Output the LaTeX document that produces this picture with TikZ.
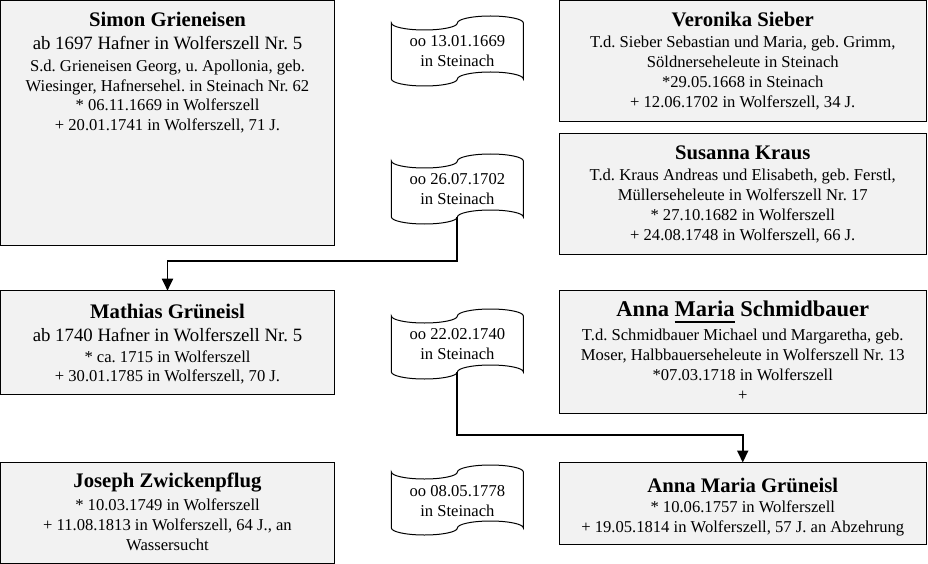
\documentclass[tikz,border=0pt]{standalone}
\usepackage{fontspec}
\setmainfont{Liberation Serif}
\usetikzlibrary{arrows.meta,fit}
\definecolor{boxgray}{HTML}{F2F2F2}
\newcommand\tb[1]{\begin{tabular}[t]{@{}c@{}}#1\end{tabular}}
\newcommand\nm[1]{{\fontsize{20.7}{20}\selectfont\bfseries #1}}
\newcommand\bignm[1]{{\fontsize{22.5}{20}\selectfont\bfseries #1}}
\newcommand\hf[1]{{\fontsize{18.8}{20}\selectfont #1}}
\newcommand\myul[1]{\setbox0\hbox{#1}\rlap{\smash{\rule[-6.4pt]{\wd0}{1.7pt}}}\box0\relax}
\newcommand\drawtape[1]{%
  \draw[tape] (#1.north west)
    arc[start angle=180, end angle=360, x radius=33pt, y radius=7pt]
    arc[start angle=180, end angle=0, x radius=33pt, y radius=7pt]
    -- (#1.south east)
    arc[start angle=0, end angle=180, x radius=33pt, y radius=7pt]
    arc[start angle=0, end angle=-180, x radius=33pt, y radius=7pt]
    -- cycle;}
\begin{document}
\begin{tikzpicture}[x=1pt,y=-1pt,
  box/.style={draw=black, line width=1pt, fill=boxgray, inner sep=0pt, outer sep=0pt},
  txt/.style={anchor=base, inner sep=0pt, font=\fontsize{16.6}{#1}\selectfont\frenchspacing},
  txt/.default=20,
  scroll/.style={minimum width=132pt, minimum height=56pt, inner sep=0pt, outer sep=0pt},
  tape/.style={draw=black, line width=1pt, fill=white},
  link/.style={line width=1.9pt, -{Triangle[width=11pt,length=12pt]}}]
\useasboundingbox (0,0) rectangle (928,564);

% person boxes
\node[box, fit={(0.5,0.5) (334.5,245)}] (simon) {};
\node[box, fit={(559.5,0.5) (926,121.5)}] (veronika) {};
\node[box, fit={(559.5,133.5) (926,254)}] (susanna) {};
\node[box, fit={(0.5,290.7) (334.5,394)}] (mathias) {};
\node[box, fit={(559.5,290.5) (926,413)}] (schmidbauer) {};
\node[box, fit={(0.5,462) (334.5,563)}] (joseph) {};
\node[box, fit={(559.5,462.5) (926,544.5)}] (grueneisl) {};

% box texts
\node[txt=19.5] (simontxt) at (167.5,26.7) {\tb{\nm{Simon Grieneisen}\\[3.1pt]
  \hf{ab 1697 Hafner in Wolferszell Nr. 5}\\[2.9pt]
  S.d. Grieneisen Georg, u. Apollonia, geb.\\
  Wiesinger, Hafnersehel. in Steinach Nr. 62\\
  {*} 06.11.1669 in Wolferszell\\
  + 20.01.1741 in Wolferszell, 71 J.}};
\node[txt=20.2] (veronikatxt) at (742.75,26.7) {\tb{\nm{Veronika Sieber}\\[0.4pt]
  T.d. Sieber Sebastian und Maria, geb. Grimm,\\
  Söldnerseheleute in Steinach\\
  {*}29.05.1668 in Steinach\\
  + 12.06.1702 in Wolferszell, 34 J.}};
\node[txt=20.2] (susannatxt) at (742.75,160) {\tb{\nm{Susanna Kraus}\\
  T.d. Kraus Andreas und Elisabeth, geb. Ferstl,\\
  Müllerseheleute in Wolferszell Nr. 17\\
  {*} 27.10.1682 in Wolferszell\\
  + 24.08.1748 in Wolferszell, 66 J.}};
\node[txt=19.5] (mathiastxt) at (167.5,318) {\tb{\nm{Mathias Grüneisl}\\[3.8pt]
  \hf{ab 1740 Hafner in Wolferszell Nr. 5}\\[1.5pt]
  {*} ca. 1715 in Wolferszell\\
  + 30.01.1785 in Wolferszell, 70 J.}};
\node[txt] (schmidbauertxt) at (742.75,316.7) {\tb{\bignm{Anna \myul{Maria} Schmidbauer}\\[3.3pt]
  T.d. Schmidbauer Michael und Margaretha, geb.\\
  Moser, Halbbauerseheleute in Wolferszell Nr. 13\\
  {*}07.03.1718 in Wolferszell\\
  +}};
\node[txt] (josephtxt) at (167.5,487.3) {\tb{\nm{Joseph Zwickenpflug}\\[3.3pt]
  {*} 10.03.1749 in Wolferszell\\
  + 11.08.1813 in Wolferszell, 64 J., an\\
  Wassersucht}};
\node[txt] (grueneisltxt) at (742.75,492) {\tb{\nm{Anna Maria Grüneisl}\\
  {*} 10.06.1757 in Wolferszell\\
  + 19.05.1814 in Wolferszell, 57 J. an Abzehrung}};

% marriage scrolls
\node[scroll] (s1) at (457.4,51) {};
\node[scroll] (s2) at (457.4,189) {};
\node[scroll] (s3) at (457.4,344) {};
\node[scroll] (s4) at (457.4,500) {};
\drawtape{s1}
\drawtape{s2}
\drawtape{s3}
\drawtape{s4}
\node[txt] (s1t) at (457.4,46.5) {\tb{oo 13.01.1669\\ in Steinach}};
\node[txt] (s2t) at (457.4,184.5) {\tb{oo 26.07.1702\\ in Steinach}};
\node[txt] (s3t) at (457.4,339.5) {\tb{oo 22.02.1740\\ in Steinach}};
\node[txt] (s4t) at (457.4,496) {\tb{oo 08.05.1778\\ in Steinach}};

% connectors
\coordinate (b1) at (457.4,261);
\coordinate (b2) at (457.4,435);
\draw[link] (s2.south) -- (b1) -| (mathias.north);
\draw[link] (s3.south) -- (b2) -| (grueneisl.north);
\end{tikzpicture}
\end{document}
